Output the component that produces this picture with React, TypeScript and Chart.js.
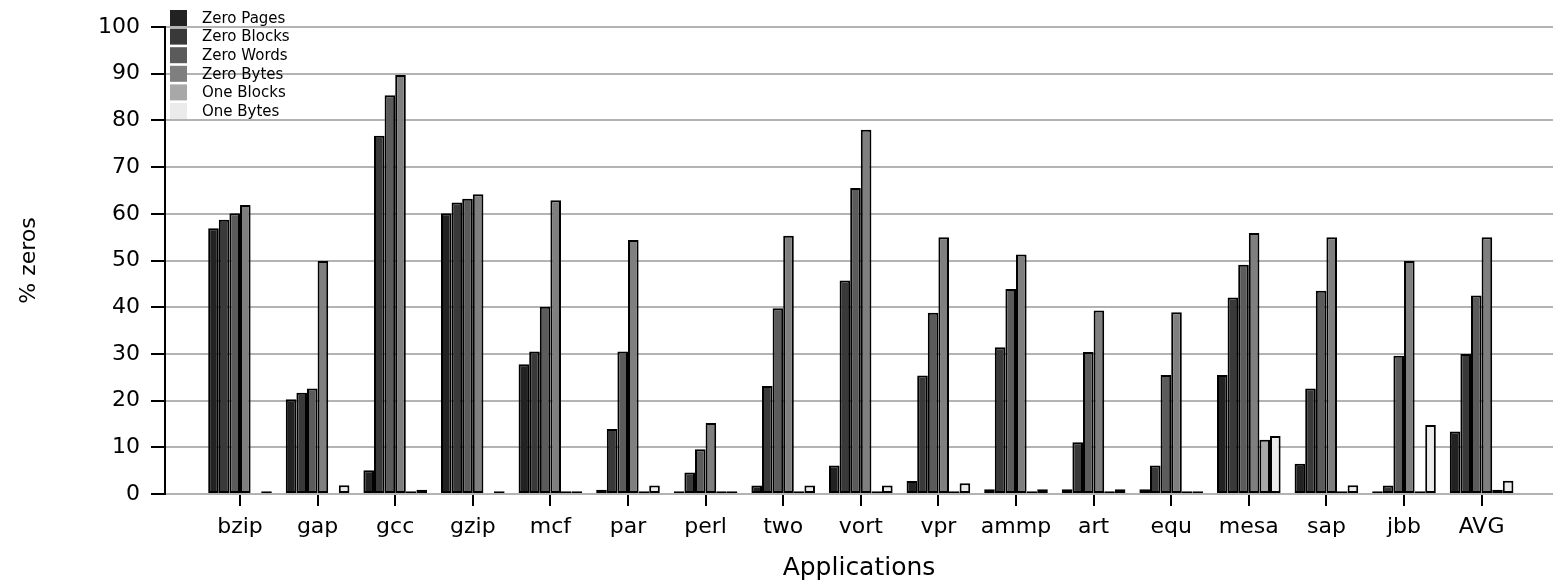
import React, { useEffect, useRef } from "react";
import { Chart, registerables } from "chart.js";

Chart.register(...registerables);

const categories = ["bzip", "gap", "gcc", "gzip", "mcf", "par", "perl", "two", "vort", "vpr", "ammp", "art", "equ", "mesa", "sap", "jbb", "AVG"];

const zeroPages = [56.9, 20.3, 5.1, 60.1, 27.8, 0.9, 0.6, 1.8, 6.1, 2.8, 1.0, 1.0, 1.0, 25.5, 6.5, 0.6, 13.4];
const zeroBlocks = [58.7, 21.7, 76.7, 62.4, 30.5, 13.9, 4.6, 23.1, 45.7, 25.4, 31.4, 11.1, 6.1, 42.1, 22.6, 1.8, 30.0];
const zeroWords = [60.1, 22.6, 85.4, 63.2, 40.1, 30.5, 9.6, 39.8, 65.5, 38.8, 43.9, 30.4, 25.5, 49.1, 43.5, 29.6, 42.5];
const zeroBytes = [61.9, 49.9, 89.7, 64.2, 62.9, 54.4, 15.2, 55.3, 78.0, 55.0, 51.3, 39.3, 38.9, 55.9, 55.0, 49.9, 55.0];
const oneBlocks = [0, 0, 0.6, 0, 0.6, 0.6, 0.6, 0.6, 0.6, 0.6, 0.6, 0.6, 0.6, 11.6, 0.6, 0.6, 0.9];
const oneBytes = [0.6, 1.85, 0.9, 0.6, 0.6, 1.8, 0.6, 1.8, 1.8, 2.3, 1.0, 1.0, 0.6, 12.4, 1.9, 14.8, 2.85];

const seriesNames = ["Zero Pages", "Zero Blocks", "Zero Words", "Zero Bytes", "One Blocks", "One Bytes"];
const seriesValues = [zeroPages, zeroBlocks, zeroWords, zeroBytes, oneBlocks, oneBytes];
const seriesColors = ["#222222", "#393939", "#5b5b5b", "#7f7f7f", "#a8a8a8", "#ebebeb"];

const yTicks = [0, 10, 20, 30, 40, 50, 60, 70, 80, 90, 100];

const FONT = "'DejaVu Sans', sans-serif";

const legendPlugin = {
  id: "insideLegend",
  afterDraw(chart: any) {
    const ctx = chart.ctx;
    ctx.save();
    chart.data.datasets.forEach((ds: any, i: number) => {
      const top = 10 + i * 18.6;
      ctx.fillStyle = ds.backgroundColor;
      ctx.fillRect(170, top, 17, 16);
      ctx.fillStyle = "#000";
      ctx.font = `15px ${FONT}`;
      ctx.textBaseline = "middle";
      ctx.textAlign = "left";
      ctx.fillText(ds.label, 202, top + 9);
    });
    ctx.restore();
  },
};

export default function App() {
  const ref = useRef<HTMLCanvasElement | null>(null);

  useEffect(() => {
    document.body.style.margin = "0";
    const canvas = ref.current;
    if (!canvas) return;
    const chart = new Chart(canvas, {
      type: "bar",
      data: {
        datasets: seriesNames.map((name, s) => ({
          label: name,
          data: seriesValues[s].map((v, i) => ({ x: i, y: v })),
          backgroundColor: seriesColors[s],
          borderColor: "#000000",
          borderWidth: 2,
          borderSkipped: false,
          categoryPercentage: 0.82,
          barPercentage: 1.0,
        })),
      },
      options: {
        animation: false,
        responsive: false,
        devicePixelRatio: 1,
        layout: { padding: { top: 27, right: 0, left: 0, bottom: 0 } },
        plugins: {
          legend: { display: false },
          tooltip: { enabled: false },
        },
        scales: {
          x: {
            type: "linear",
            offset: false,
            min: (165 - 240) / 77.6,
            max: (1553 - 240) / 77.6,
            afterBuildTicks: (axis: any) => {
              axis.ticks = categories.map((_, i) => ({ value: i }));
            },
            afterFit: (axis: any) => {
              axis.height = 91;
            },
            ticks: {
              autoSkip: false,
              maxRotation: 0,
              padding: 8,
              color: "#000",
              font: { family: FONT, size: 22 },
              callback: (v: any) => categories[v as number] ?? "",
            },
            grid: {
              display: true,
              offset: false,
              drawOnChartArea: false,
              drawTicks: true,
              tickLength: 12,
              tickColor: "#000",
              lineWidth: 2,
            },
            border: { display: false },
            title: {
              display: true,
              text: "Applications",
              color: "#000",
              font: { family: FONT, size: 25 },
              padding: { top: 0, bottom: 2 },
            },
          },
          y: {
            min: 0,
            max: 100,
            afterBuildTicks: (axis: any) => {
              axis.ticks = yTicks.map((v) => ({ value: v }));
            },
            afterFit: (axis: any) => {
              axis.width = 165;
            },
            ticks: {
              padding: 11,
              color: "#000",
              font: { family: FONT, size: 22 },
            },
            grid: {
              color: "#b3b3b3",
              lineWidth: 2,
              tickLength: 14,
              tickColor: "#000",
            },
            border: { display: true, color: "#000", width: 2 },
            title: {
              display: true,
              text: "% zeros",
              color: "#000",
              font: { family: FONT, size: 22 },
              padding: { top: 16, bottom: 0 },
            },
          },
        },
      },
      plugins: [legendPlugin],
    } as any);
    return () => chart.destroy();
  }, []);

  return (
    <div style={{ width: 1553, height: 585, position: "relative" }}>
      <canvas ref={ref} width={1553} height={585} style={{ display: "block" }} />
    </div>
  );
}
